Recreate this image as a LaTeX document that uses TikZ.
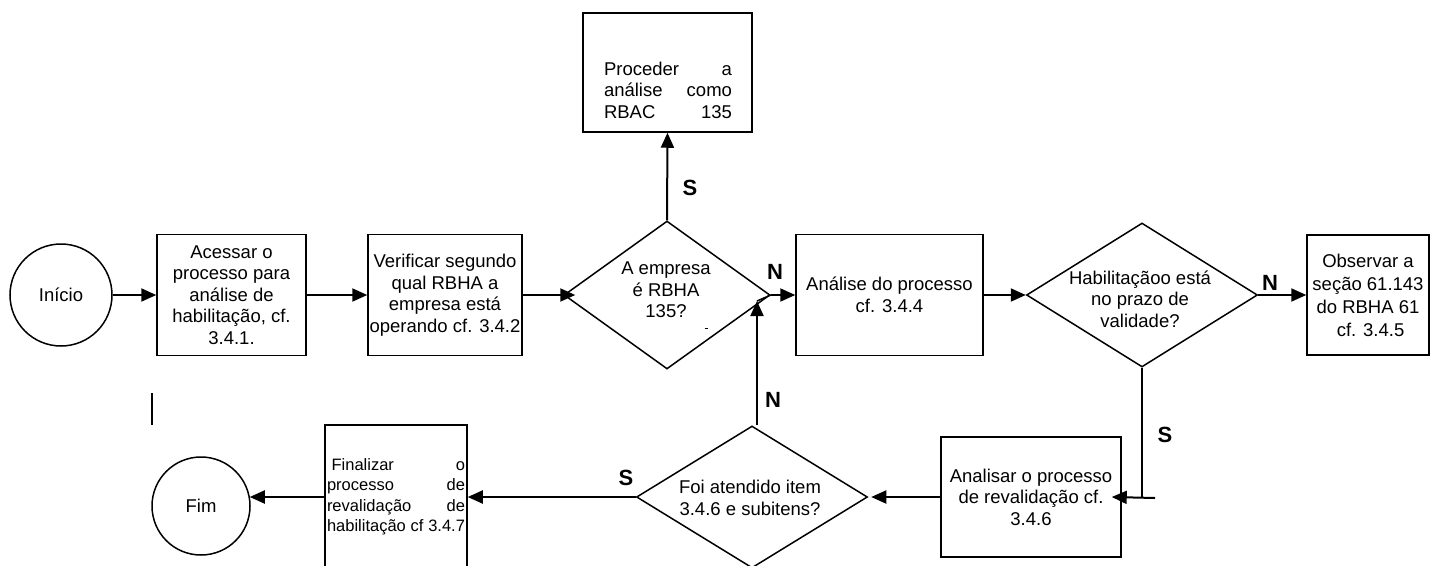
\documentclass[tikz,border=0pt]{standalone}
\usepackage{fontspec}
\setmainfont{Liberation Sans}
\usetikzlibrary{shapes.geometric,arrows.meta}
\tikzset{
  box/.style={draw, line width=1.5pt, rectangle, inner sep=0pt, align=center,
    font=\fontsize{18.5}{21.5}\selectfont},
  term/.style={draw, line width=1.5pt, circle, inner sep=0pt,
    font=\fontsize{18.5}{21.5}\selectfont},
  dia/.style={draw, line width=1.5pt, diamond, inner sep=0pt},
  dtext/.style={align=center, inner sep=0pt, font=\fontsize{18.5}{21.5}\selectfont},
  conn/.style={line width=2pt},
  arr/.style={line width=2pt, -{Triangle[length=15pt,width=13pt]}},
  lbl/.style={inner sep=0pt, font=\fontsize{22}{24}\selectfont\bfseries},
}
\begin{document}
\begin{tikzpicture}[x=1pt,y=-1pt]
\useasboundingbox (0,0) rectangle (1432,565);
\fill[white] (0,0) rectangle (1432,565);
\clip (0,0) rectangle (1432,565);

% nodes
\node[term, minimum size=102pt] (ini) at (61,295) {Início};
\node[box, minimum width=149pt, minimum height=121pt] (b1) at (231.5,295)
  {Acessar o\\processo para\\análise de\\habilitação, cf.\\3.4.1.};
\node[box, minimum width=154pt, minimum height=121pt] (b2) at (445,295)
  {Verificar segundo\\qual RBHA a\\empresa está\\operando cf. 3.4.2};
\node[dia, minimum width=206pt, minimum height=148pt] (d1) at (667,295) {};
\node[dtext] (d1t) at (666,290) {A empresa\\é RBHA\\135?};
\node[box, minimum width=169pt, minimum height=119pt] (p) at (667.5,72.5) {};
\node[dtext] (pt) at (668,90) {\hbox to 128pt{Proceder\hfill a}\\\hbox to 128pt{análise\hfill como}\\\hbox to 128pt{RBAC\hfill 135}};
\node[box, minimum width=187pt, minimum height=121pt] (an) at (889.5,295)
  {Análise do processo\\cf. 3.4.4};
\node[dia, minimum width=231pt, minimum height=144pt] (d2) at (1142,295) {};
\node[dtext] (d2t) at (1140,299) {Habilitaçãoo está\\no prazo de\\validade?};
\node[box, minimum width=122pt, minimum height=120pt, font=\fontsize{18.5}{23}\selectfont] (ob) at (1368,295)
  {Observar a\\seção 61.143\\do RBHA 61\\\ cf. 3.4.5};
\node[box, minimum width=180pt, minimum height=120pt] (ar) at (1031,497)
  {Analisar o processo\\de revalidação cf.\\3.4.6};
\node[dia, minimum width=231pt, minimum height=142pt] (d3) at (752,497) {};
\node[dtext] (d3t) at (750,498) {Foi atendido item\\3.4.6 e subitens?};
\node[box, minimum width=142pt, minimum height=144pt] (fin) at (396,497) {};
\node[dtext, font=\fontsize{16.5}{20.5}\selectfont] (fint) at (396,497)
  {\hbox to 138pt{\ Finalizar\hfill o}\\\hbox to 138pt{processo\hfill de}\\\hbox to 138pt{revalidação\hfill de}\\\hbox to 138pt{habilitação cf 3.4.7}};
\node[term, minimum size=98pt] (fim) at (201,506) {Fim};

% helper coordinates
\coordinate (j1) at (757,301);
\coordinate (c1) at (1155,498);
\coordinate (s1) at (152,393);
\coordinate (s2) at (152,425);
\coordinate (m1) at (704.5,328);
\coordinate (m2) at (707.5,328);

% connectors
\draw[arr] (ini.east) -- (b1.west);
\draw[arr] (b1.east) -- (b2.west);
\draw[arr] (b2.east) -- ([xshift=12pt]d1.west);
\draw[arr] (d1.north) -- (p.south);
\draw[arr] (d1.east) -- (an.west);
\draw[arr] (an.east) -- (d2.west);
\draw[arr] (d2.east) -- (ob.west);
\draw[conn] (d2.south) -- (d2.south |- c1);
\draw[arr] (c1) -- ([xshift=-10pt]ar.east);
\draw[arr] (ar.west) -- ([xshift=3pt]d3.east);
\draw[arr] ([xshift=5pt]d3.north) -- (j1);
\draw[line width=1.5pt] (j1) -- (d1.east);
\draw[arr] (d3.west) -- (fin.east);
\draw[arr] (fin.west) -- ([xshift=-1pt]fin.west -| fim.east);
\draw[line width=1.5pt] (s1) -- (s2);
\draw[line width=1pt] (m1) -- (m2);

% labels
\node[lbl] (ls1) at (690,188) {S};
\node[lbl] (ln1) at (775,272) {N};
\node[lbl] (ln2) at (1270,283) {N};
\node[lbl] (ls2) at (1165,435) {S};
\node[lbl] (ln3) at (773,400) {N};
\node[lbl] (ls3) at (626,478) {S};
\end{tikzpicture}
\end{document}
